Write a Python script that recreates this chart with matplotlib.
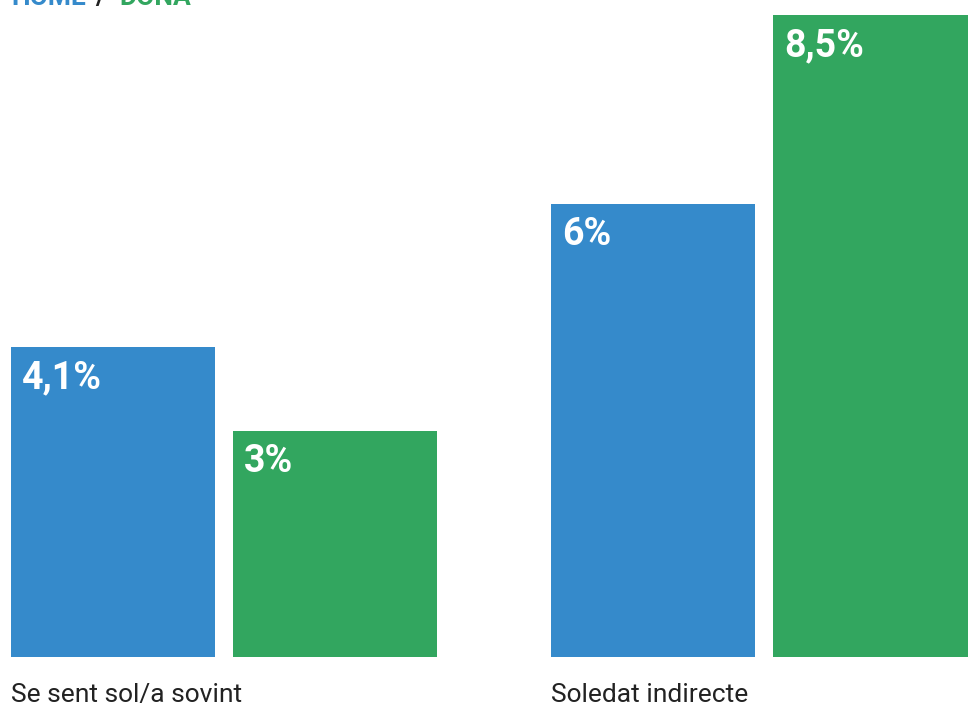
import matplotlib
matplotlib.use("Agg")
import matplotlib.pyplot as plt
import numpy as np

plt.rcParams['font.family'] = ['Roboto', 'DejaVu Sans']

categories = ["Se sent sol/a sovint", "Soledat indirecte"]
series_names = ["HOME", "DONA"]
home = [4.1, 6.0]
dona = [3.0, 8.5]
home_labels = ["4,1%", "6%"]
dona_labels = ["3%", "8,5%"]

BLUE = "#358ACB"
GREEN = "#32A65F"

W, H = 968, 706
fig = plt.figure(figsize=(W / 100, H / 100), dpi=100)
# axes spans full width, from bottom bar baseline (y=657px) to top
ax = fig.add_axes([0, (H - 657) / H, 1, 657 / H])

x = np.arange(len(categories))
spacing = 540.0
width = 204 / spacing
off = 111 / spacing
ax.set_xlim(-224 / spacing, (W - 224) / spacing)
ax.set_ylim(0, 657 / 75.5)
ax.axis('off')

b1 = ax.bar(x - off, home, width=width, color=BLUE)
b2 = ax.bar(x + off, dona, width=width, color=GREEN)

for bars, labels in ((b1, home_labels), (b2, dona_labels)):
    for rect, lab in zip(bars, labels):
        ax.annotate(lab, xy=(rect.get_x(), rect.get_height()),
                    xytext=(11, -12), textcoords='offset pixels',
                    ha='left', va='top', color='white',
                    fontsize=27, fontweight='bold')

for i, cat in enumerate(categories):
    ax.annotate(cat, xy=(x[i] - off - width / 2, 0),
                xytext=(0, -45), textcoords='offset pixels',
                ha='left', va='baseline', color='#222222', fontsize=19)

# legend (clipped at the top as in reference)
fig.text(11 / W, 1 - 5 / H, "HOME", color=BLUE, fontsize=19,
         fontweight='bold', ha='left', va='baseline')
fig.text(95 / W, 1 - 5 / H, "/", color='#222222', fontsize=19,
         fontweight='bold', ha='left', va='baseline')
fig.text(119 / W, 1 - 5 / H, "DONA", color=GREEN, fontsize=19,
         fontweight='bold', ha='left', va='baseline')

fig.savefig("out.png", dpi=100)
